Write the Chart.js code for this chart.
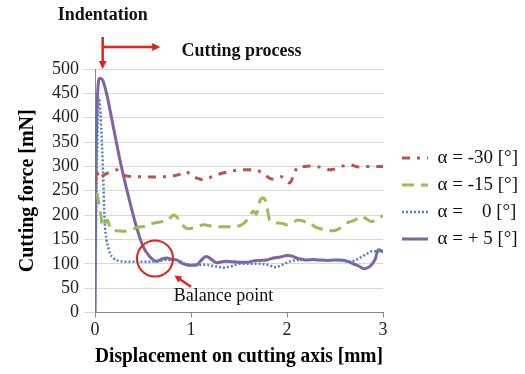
<!DOCTYPE html>
<html>
<head>
<meta charset="utf-8">
<script src="https://cdn.jsdelivr.net/npm/chart.js@4.4.0/dist/chart.umd.min.js"></script>
<style>
  html, body { margin: 0; padding: 0; background: #fff; }
  #wrap { width: 525px; height: 374px; }
</style>
</head>
<body>
<div id="wrap"><canvas id="myChart" width="525" height="374"></canvas></div>
<script>
// displacement [mm] / cutting force [mN], one pair of arrays per rake angle
const dispM30 = [0, 0.02, 0.04, 0.1, 0.18, 0.225, 0.28, 0.34, 0.4, 0.46, 0.52, 0.61, 0.67, 0.73, 0.8, 0.87, 0.94, 1.02, 1.08, 1.13, 1.22, 1.32, 1.42, 1.51, 1.57, 1.63, 1.7, 1.75, 1.84, 1.94, 2.03, 2.07, 2.12, 2.18, 2.24, 2.33, 2.4, 2.45, 2.52, 2.57, 2.66, 2.74, 2.8, 2.85, 2.93, 3.0];
const forceM30 = [262, 290, 275, 283, 290, 293, 283, 280, 279, 279, 279, 278, 279, 279, 280, 283, 290, 279, 275, 272, 279, 286, 290, 293, 293, 293, 291, 286, 274, 279, 266, 283, 300, 300, 301, 299, 296, 293, 296, 300, 303, 299, 300, 300, 300, 300];

const dispM15 = [0.02, 0.04, 0.06, 0.08, 0.11, 0.13, 0.16, 0.22, 0.3, 0.38, 0.45, 0.52, 0.6, 0.68, 0.76, 0.82, 0.88, 0.93, 0.98, 1.05, 1.13, 1.2, 1.27, 1.37, 1.48, 1.55, 1.6, 1.65, 1.68, 1.72, 1.75, 1.78, 1.82, 1.89, 1.95, 2.0, 2.06, 2.12, 2.18, 2.24, 2.29, 2.35, 2.41, 2.46, 2.51, 2.55, 2.59, 2.65, 2.71, 2.75, 2.78, 2.83, 2.88, 2.94, 3.0];
const forceM15 = [246, 225, 200, 176, 185, 190, 172, 168, 167, 170, 175, 177, 183, 186, 190, 200, 190, 176, 172, 175, 180, 178, 176, 176, 177, 183, 194, 208, 202, 230, 235, 228, 190, 184, 183, 180, 185, 190, 187, 184, 176, 172, 170, 168, 169, 173, 180, 186, 190, 196, 197, 192, 187, 192, 199];

const dispZero = [0, 0.02, 0.04, 0.05, 0.065, 0.083, 0.1, 0.12, 0.135, 0.16, 0.19, 0.23, 0.27, 0.35, 0.45, 0.55, 0.65, 0.75, 0.85, 0.95, 1.05, 1.15, 1.25, 1.34, 1.42, 1.5, 1.6, 1.7, 1.8, 1.875, 1.95, 2.05, 2.15, 2.25, 2.35, 2.45, 2.55, 2.65, 2.72, 2.8, 2.9, 2.95, 3.0];
const forceZero = [0, 300, 440, 430, 380, 293, 190, 150, 136, 120, 112, 107, 105, 104, 104, 104, 105, 108, 108, 99, 97, 98, 95, 92, 95, 100, 100, 100, 98, 93, 98, 106, 108, 108, 107, 108, 107, 104, 108, 117, 126, 126, 124];

const dispPlus5 = [0, 0.01, 0.03, 0.05, 0.08, 0.12, 0.19, 0.26, 0.34, 0.43, 0.5, 0.57, 0.64, 0.7, 0.75, 0.8, 0.85, 0.9, 0.95, 1.0, 1.06, 1.1, 1.16, 1.22, 1.27, 1.32, 1.37, 1.45, 1.52, 1.58, 1.65, 1.72, 1.79, 1.86, 1.93, 2.0, 2.05, 2.1, 2.14, 2.2, 2.27, 2.34, 2.42, 2.5, 2.55, 2.62, 2.69, 2.75, 2.8, 2.85, 2.88, 2.92, 2.95, 2.98, 3.0];
const forcePlus5 = [0, 300, 460, 481, 477, 450, 382, 313, 245, 177, 136, 115, 105, 110, 112, 109, 108, 102, 98, 97, 98, 106, 115, 108, 102, 104, 105, 104, 103, 103, 106, 107, 108, 112, 114, 117, 116, 112, 110, 108, 109, 108, 107, 108, 108, 106, 100, 95, 90, 93, 98, 110, 129, 127, 124];

const seriesLabels = ['\u03B1 = -30 [\u00B0]', '\u03B1 = -15 [\u00B0]', '\u03B1 =    0 [\u00B0]', '\u03B1 = + 5 [\u00B0]'];
const xTicks = [0, 1, 2, 3];
const yMax = 500;

const serif = "'Liberation Serif', 'Times New Roman', serif";
Chart.defaults.font.family = serif;

const plotRight = 383;
const legendGapPx = 11;

function toPoints(xs, ys) {
  return xs.map((v, i) => ({ x: v, y: ys[i] }));
}

// leave a small strip between the plot and the legend
const legendGap = {
  id: 'legendGap',
  afterLayout(chart) {
    const lg = chart.legend;
    if (lg) {
      lg.left += legendGapPx;
      lg.right += legendGapPx;
    }
  }
};

// red marks drawn over the chart: arrows, circle and their captions
const annotations = {
  id: 'annotations',
  afterDraw(chart) {
    const ctx = chart.ctx;
    const x = chart.scales.x;
    const y = chart.scales.y;
    const red = '#E2231A';

    function arrowHead(x1, y1, x2, y2, size) {
      const ang = Math.atan2(y2 - y1, x2 - x1);
      ctx.beginPath();
      ctx.moveTo(x2, y2);
      ctx.lineTo(x2 - size * Math.cos(ang - 0.45), y2 - size * Math.sin(ang - 0.45));
      ctx.lineTo(x2 - size * Math.cos(ang + 0.45), y2 - size * Math.sin(ang + 0.45));
      ctx.closePath();
      ctx.fill();
    }
    function arrow(x1, y1, x2, y2, size) {
      const ang = Math.atan2(y2 - y1, x2 - x1);
      ctx.beginPath();
      ctx.moveTo(x1, y1);
      ctx.lineTo(x2 - size * 0.8 * Math.cos(ang), y2 - size * 0.8 * Math.sin(ang));
      ctx.stroke();
      arrowHead(x1, y1, x2, y2, size);
    }

    ctx.save();
    ctx.strokeStyle = red;
    ctx.fillStyle = red;
    ctx.lineWidth = 2.5;

    const ax = x.getPixelForValue(0.08);
    arrow(ax, 37, ax, chart.chartArea.top, 9);
    arrow(ax, 47, x.getPixelForValue(0.68), 47, 9);

    // balance point
    ctx.lineWidth = 2;
    ctx.beginPath();
    ctx.arc(x.getPixelForValue(0.625), y.getPixelForValue(111), 18, 0, Math.PI * 2);
    ctx.stroke();
    ctx.lineWidth = 2.5;
    arrow(x.getPixelForValue(1.0), y.getPixelForValue(53), x.getPixelForValue(0.826), y.getPixelForValue(76), 8);

    ctx.fillStyle = '#111';
    ctx.textBaseline = 'middle';
    ctx.font = 'bold 18px ' + serif;
    ctx.textAlign = 'center';
    ctx.fillText('Indentation', ax, 15);
    ctx.textAlign = 'left';
    ctx.fillText('Cutting process', x.getPixelForValue(0.9), 51);
    ctx.font = '18px ' + serif;
    ctx.fillText('Balance point', x.getPixelForValue(0.82), y.getPixelForValue(34));
    ctx.restore();
  }
};

const data = {
  datasets: [
    {
      label: seriesLabels[0],
      data: toPoints(dispM30, forceM30),
      borderColor: '#C0504D',
      backgroundColor: '#C0504D',
      borderWidth: 3,
      borderDash: [8, 7, 3, 7]
    },
    {
      label: seriesLabels[1],
      data: toPoints(dispM15, forceM15),
      borderColor: '#9BBB59',
      backgroundColor: '#9BBB59',
      borderWidth: 3,
      borderDash: [12, 7]
    },
    {
      label: seriesLabels[2],
      data: toPoints(dispZero, forceZero),
      borderColor: '#4F81BD',
      backgroundColor: '#4F81BD',
      borderWidth: 2.5,
      borderDash: [2, 2]
    },
    {
      label: seriesLabels[3],
      data: toPoints(dispPlus5, forcePlus5),
      borderColor: '#8064A2',
      backgroundColor: '#8064A2',
      borderWidth: 3
    }
  ]
};

const config = {
  type: 'line',
  data: data,
  options: {
    responsive: false,
    devicePixelRatio: 1,
    animation: false,
    elements: {
      point: { radius: 0 },
      line: { cubicInterpolationMode: 'monotone', fill: false }
    },
    layout: { padding: { top: 69, right: 15, bottom: 4, left: 0 } },
    scales: {
      x: {
        type: 'linear',
        min: 0,
        max: 3,
        afterBuildTicks: function (scale) {
          scale.ticks = xTicks.map(v => ({ value: v }));
        },
        afterFit: function (scale) { scale.height = 374 - 4 - 312.5; },
        ticks: { color: '#222', font: { family: serif, size: 18 }, padding: 2, autoSkip: false },
        grid: { drawOnChartArea: false, color: '#868686', tickLength: 5 },
        border: { color: '#868686' },
        title: {
          display: true,
          text: 'Displacement on cutting axis [mm]',
          color: '#000',
          font: { family: serif, size: 20, weight: 'bold' },
          padding: { top: 0, bottom: 1 }
        }
      },
      y: {
        min: 0,
        max: yMax,
        ticks: { stepSize: 50, color: '#222', font: { family: serif, size: 18 }, padding: 5, autoSkip: false },
        afterFit: function (scale) { scale.width = 95; },
        grid: { color: '#D9D9D9', tickLength: 11 },
        border: { color: '#868686' },
        title: {
          display: true,
          text: 'Cutting force [mN]',
          color: '#000',
          font: { family: serif, size: 20, weight: 'bold' },
          padding: { top: 16, bottom: 0 }
        }
      }
    },
    plugins: {
      tooltip: { enabled: false },
      legend: {
        position: 'right',
        fullSize: false,
        maxWidth: 200,
        title: { display: true, text: '', font: { size: 10 }, padding: { top: 3.5, bottom: 0 } },
        labels: {
          color: '#111',
          font: { family: serif, size: 19 },
          usePointStyle: true,
          pointStyle: 'line',
          pointStyleWidth: 26,
          padding: 8,
          generateLabels: function (chart) {
            const items = Chart.defaults.plugins.legend.labels.generateLabels(chart);
            items.forEach(function (item) {
              const ds = chart.data.datasets[item.datasetIndex];
              item.pointStyle = 'line';
              item.strokeStyle = ds.borderColor;
              item.lineWidth = ds.borderWidth;
              item.lineDash = ds.borderDash || [];
            });
            return items;
          }
        }
      }
    }
  },
  plugins: [annotations, legendGap]
};

const myChart = new Chart(document.getElementById('myChart'), config);

// nudge the right padding so the plot ends where the original one does
const extra = Math.round(myChart.chartArea.right - plotRight);
if (extra !== 0) {
  myChart.options.layout.padding.right = Math.max(0, myChart.options.layout.padding.right + extra);
  myChart.update();
}
</script>
</body>
</html>
